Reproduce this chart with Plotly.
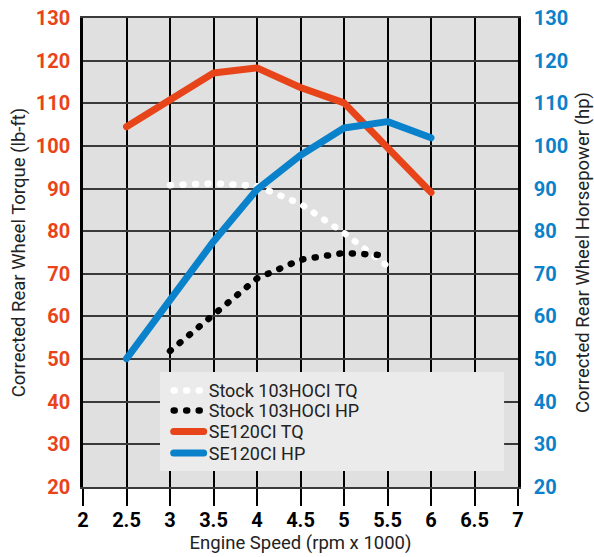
import plotly.graph_objects as go

# Engine speed (rpm x 1000)
rpm_se = [2.5, 3.0, 3.5, 4.0, 4.5, 5.0, 5.5, 6.0]
se_tq = [104.5, 110.6, 117.1, 118.3, 113.7, 110.1, 99.7, 89.1]
se_hp = [50.1, 63.6, 77.6, 89.8, 97.8, 104.2, 105.7, 101.9]

rpm_stock = [3.0, 3.5, 4.0, 4.5, 5.0, 5.5]
stock_tq = [90.8, 91.2, 90.6, 86.4, 79.6, 71.8]
stock_hp = [51.9, 60.6, 68.9, 73.3, 74.9, 74.3]

x_ticks = [2, 2.5, 3, 3.5, 4, 4.5, 5, 5.5, 6, 6.5, 7]
y_ticks = [20, 30, 40, 50, 60, 70, 80, 90, 100, 110, 120, 130]

RED = "#E8441A"
BLUE = "#0A82CB"
FONT = "Roboto"

fig = go.Figure()
fig.add_trace(go.Scatter(x=rpm_stock, y=stock_tq, mode="lines", name="Stock 103HOCI TQ",
                         line=dict(color="white", width=6.5, dash="1px,11.5px"), legend="legend"))
fig.add_trace(go.Scatter(x=rpm_stock, y=stock_hp, mode="lines", name="Stock 103HOCI HP",
                         line=dict(color="black", width=6.5, dash="1px,11.5px"), yaxis="y2", legend="legend2"))
fig.add_trace(go.Scatter(x=rpm_se, y=se_tq, mode="lines", name="SE120CI TQ",
                         line=dict(color=RED, width=7), legend="legend3"))
fig.add_trace(go.Scatter(x=rpm_se, y=se_hp, mode="lines", name="SE120CI HP",
                         line=dict(color=BLUE, width=7), yaxis="y2", legend="legend4"))

def leg(yc):
    return dict(x=0.197, y=yc, xanchor="left", yanchor="middle", bgcolor="rgba(0,0,0,0)",
                borderwidth=0, font=dict(size=18, color="#222", family=FONT), itemwidth=30)

fig.update_layout(
    width=594, height=557,
    margin=dict(l=83, r=76, t=18, b=70, autoexpand=False),
    paper_bgcolor="white",
    plot_bgcolor="#E0E0E0",
    font=dict(family=FONT, color="#222"),
    showlegend=True,
    legend=leg(0.2053),
    legend2=leg(0.1627),
    legend3=leg(0.1179),
    legend4=leg(0.0719),
    xaxis=dict(range=[2, 7], tickvals=x_ticks, ticktext=[f"{v:g}" for v in x_ticks],
               showgrid=True, gridcolor="black", gridwidth=2,
               showline=True, linecolor="#3a3a3a", linewidth=1.5, mirror=True,
               ticks="outside", ticklen=17, tickwidth=2, tickcolor="black", ticklabelstandoff=-3,
               tickfont=dict(size=20, color="black", family=FONT, weight="bold"),
               title=dict(text="Engine Speed (rpm x 1000)", font=dict(size=18.5, color="#222"), standoff=4),
               zeroline=False, automargin=False),
    yaxis=dict(range=[20, 130], tickvals=y_ticks, showgrid=True, gridcolor="#3a3a3a", gridwidth=1.5,
               showline=True, linecolor="black", linewidth=2.5, ticks="", ticklabelstandoff=6,
               tickfont=dict(size=20, color=RED, family=FONT, weight="bold"),
               title=dict(text="Corrected Rear Wheel Torque (lb-ft)", font=dict(size=18.5, color="#222"), standoff=6),
               zeroline=False, automargin=False),
    yaxis2=dict(range=[20, 130], tickvals=y_ticks, overlaying="y", side="right", showgrid=False,
                showline=True, linecolor="black", linewidth=2.5, ticks="", ticklabelstandoff=9,
                tickfont=dict(size=20, color=BLUE, family=FONT, weight="bold"),
                title=dict(text="Corrected Rear Wheel Horsepower (hp)", font=dict(size=18.5, color="#222"), standoff=14),
                zeroline=False, automargin=False),
    shapes=[dict(type="rect", xref="paper", yref="paper", x0=0.177, x1=0.968, y0=0.034, y1=0.245,
                 fillcolor="#EBEBEB", line=dict(width=0), layer="above")],
)

post = """
document.body.style.margin = '0';
document.body.style.padding = '0';
function fixCaps(){
  document.querySelectorAll('path.js-line').forEach(function(p){
    p.style.strokeLinecap='round'; p.style.strokeLinejoin='round';
  });
}
fixCaps();
var gd = document.getElementsByClassName('plotly-graph-div')[0];
if (gd && gd.on) { gd.on('plotly_afterplot', fixCaps); }
"""

fig.write_html("out.html", post_script=post, config={"displayModeBar": False})
